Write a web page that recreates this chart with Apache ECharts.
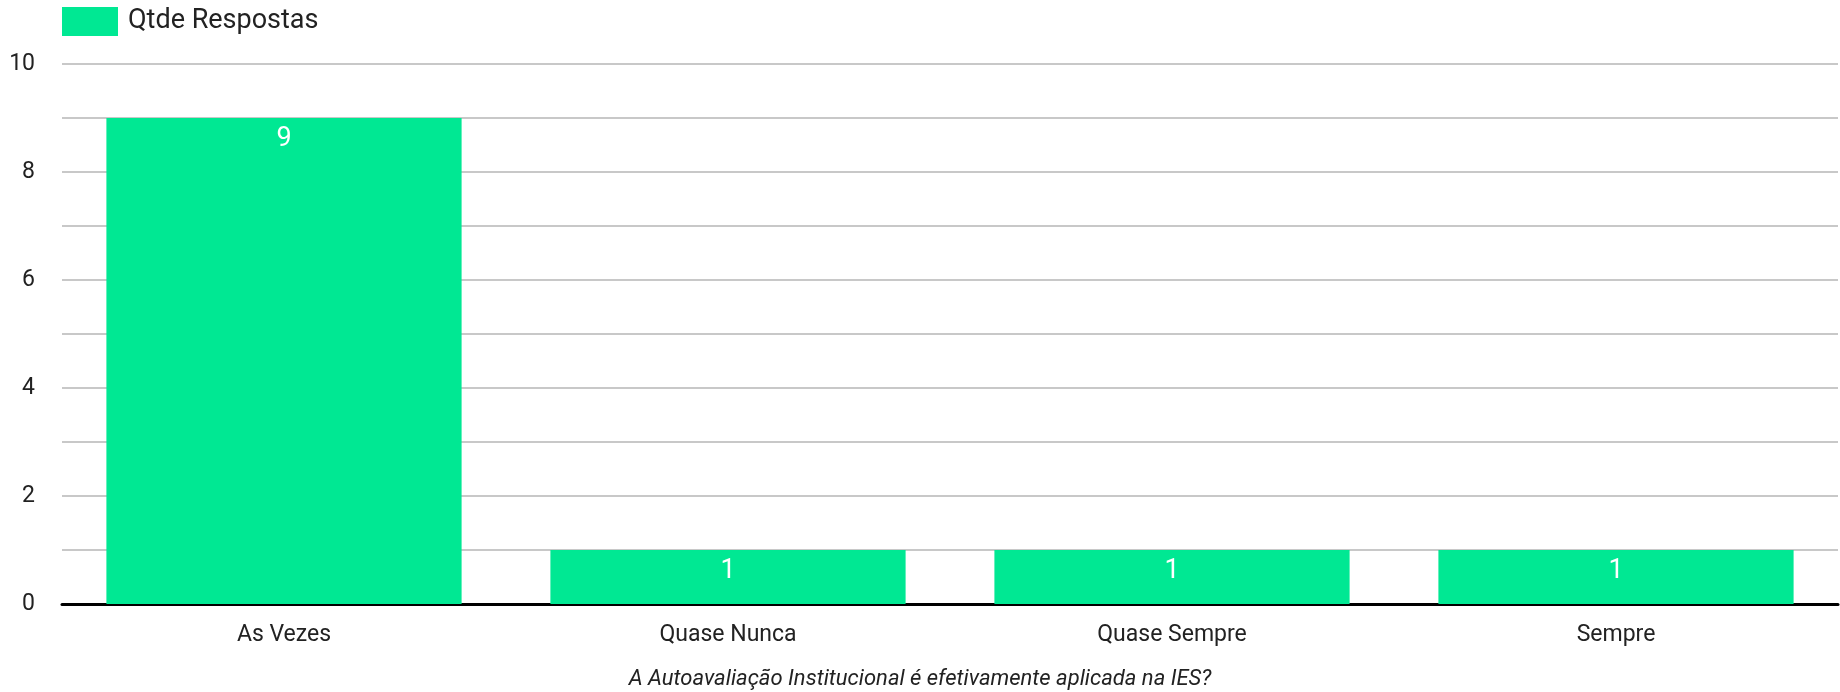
<!DOCTYPE html>
<html>
<head>
<meta charset="utf-8">
<script src="https://cdn.jsdelivr.net/npm/echarts@6/dist/echarts.min.js"></script>
<style>
  html, body { margin: 0; padding: 0; background: #fff; }
  #chart { width: 1840px; height: 692px; }
</style>
</head>
<body>
<div id="chart"></div>
<script>
// Survey answers: how often the institutional self-assessment is applied
const categories = ['As Vezes', 'Quase Nunca', 'Quase Sempre', 'Sempre'];
const respostas = [9, 1, 1, 1];
const seriesName = 'Qtde Respostas';
const axisTitle = 'A Autoavaliação Institucional é efetivamente aplicada na IES?';
const yMin = 0, yMax = 10, yStep = 1;

const chart = echarts.init(document.getElementById('chart'), null, { renderer: 'canvas' });
const font = 'Roboto, "Noto Sans", sans-serif';

chart.setOption({
  animation: false,
  textStyle: { fontFamily: font },
  title: {
    text: axisTitle,
    left: 'center',
    bottom: 2,
    padding: 0,
    textStyle: { fontSize: 22, fontStyle: 'italic', fontWeight: 'normal', color: '#222', fontFamily: font }
  },
  legend: {
    left: 62,
    top: 7,
    padding: 0,
    itemWidth: 56,
    itemHeight: 29,
    icon: 'rect',
    data: [seriesName],
    textStyle: { fontSize: 27, color: '#222', fontFamily: font, padding: [0, 0, 0, 5] }
  },
  grid: { left: 62, right: 2, top: 64, bottom: 88, containLabel: false },
  xAxis: {
    type: 'category',
    data: categories,
    axisLine: { show: true, lineStyle: { color: '#000', width: 3 } },
    axisTick: { show: false },
    axisLabel: { fontSize: 23, color: '#222', margin: 20, fontFamily: font }
  },
  yAxis: {
    type: 'value',
    min: yMin,
    max: yMax,
    interval: yStep,
    axisLine: { show: false },
    axisTick: { show: false },
    splitLine: { show: true, lineStyle: { color: '#c8c8c8', width: 2 } },
    axisLabel: {
      fontSize: 23,
      color: '#222',
      margin: 27,
      fontFamily: font,
      formatter: v => (v % 2 === 0 ? String(v) : '')
    }
  },
  series: [{
    name: seriesName,
    type: 'bar',
    data: respostas,
    barCategoryGap: '20%',
    itemStyle: { color: '#00e893' },
    label: {
      show: true,
      position: 'insideTop',
      distance: 8,
      color: '#ffffff',
      fontSize: 27,
      fontFamily: font
    }
  }]
});
</script>
</body>
</html>
